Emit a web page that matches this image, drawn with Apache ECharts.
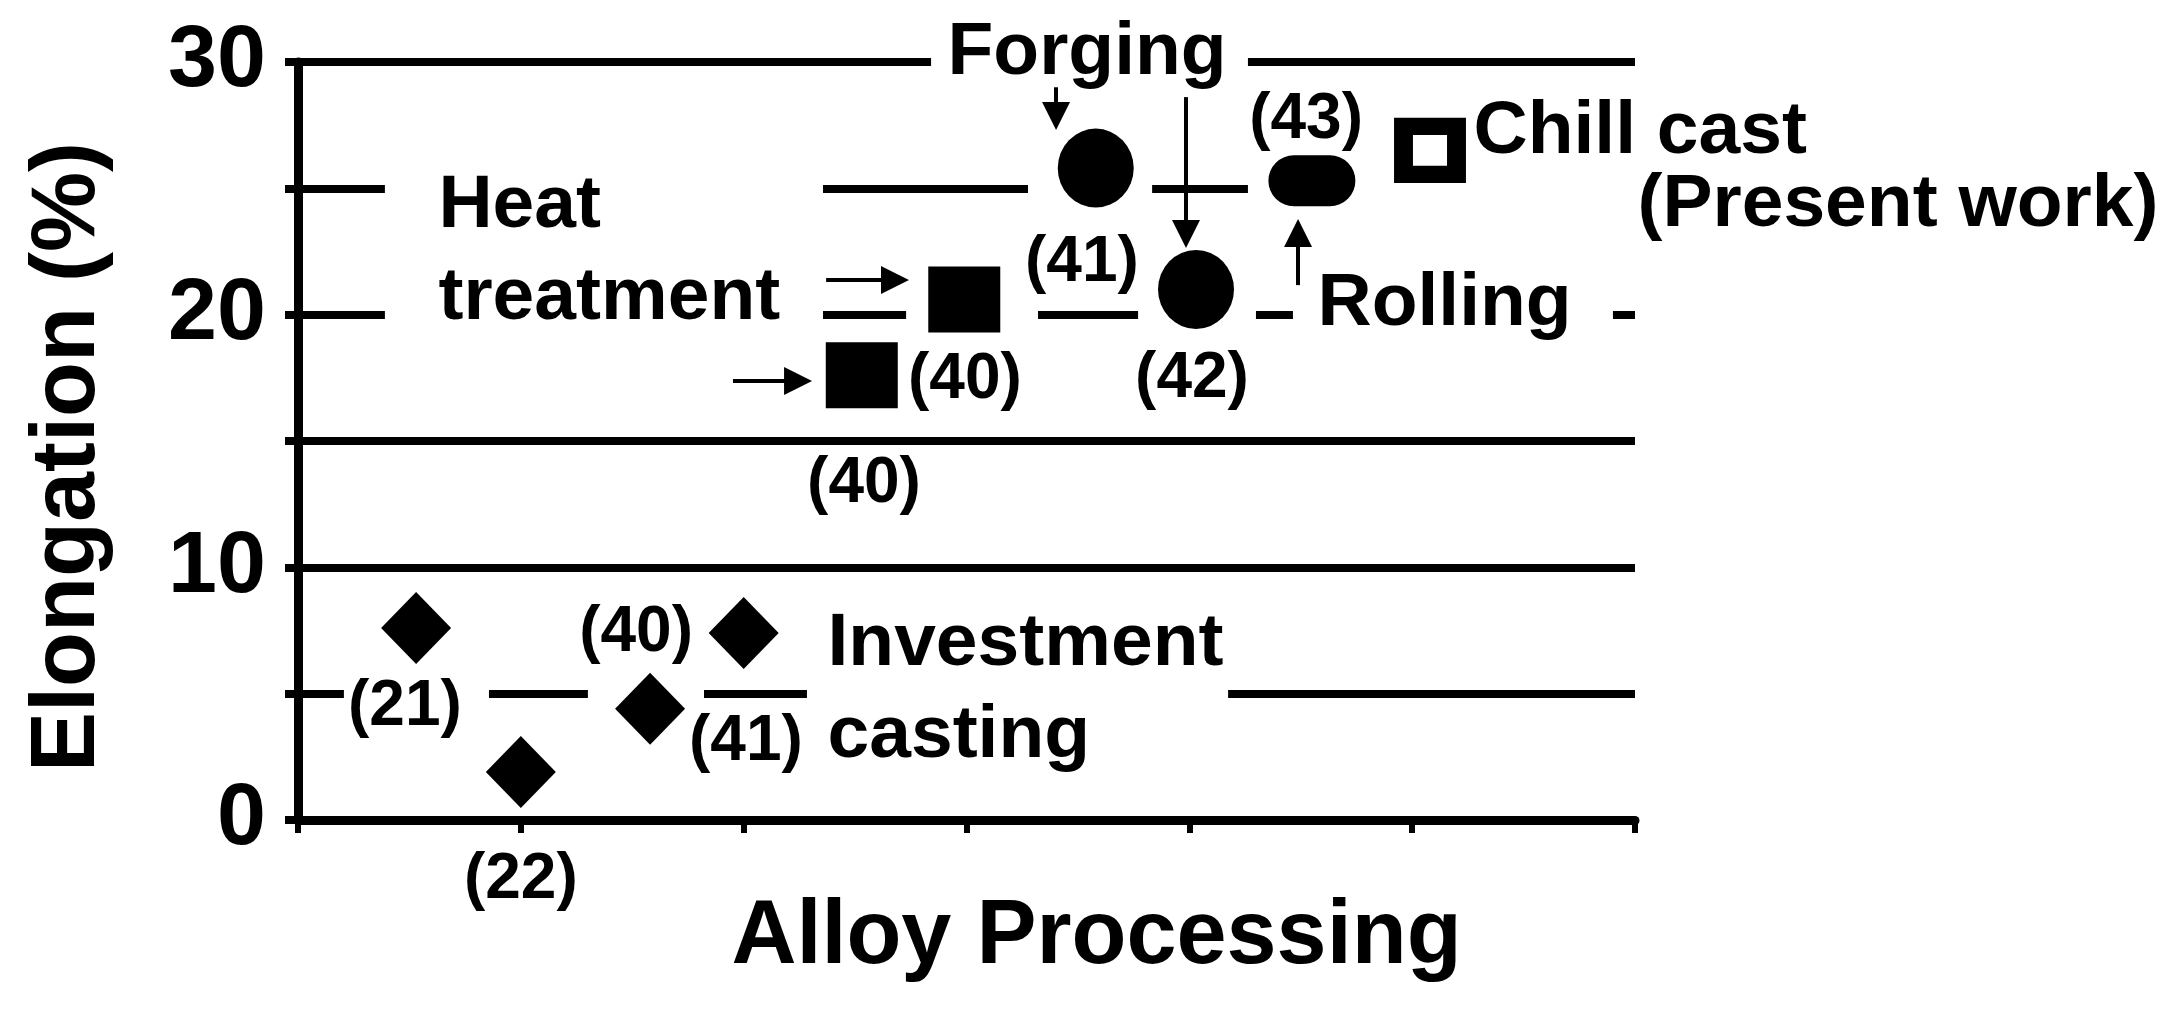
<!DOCTYPE html>
<html><head><meta charset="utf-8">
<script src="https://cdn.jsdelivr.net/npm/echarts@6/dist/echarts.min.js"></script>
<style>html,body{margin:0;padding:0;background:#fff}#c{width:2166px;height:1010px}</style>
</head><body><div id="c"></div>
<script>
// ---- data ----
const yTickValues = [0, 5, 10, 15, 20, 25, 30];
const yTickLabels = ['0', '', '10', '', '20', '', '30'];

const investX = [0.53, 1.0, 1.58, 2.0];
const investY = [7.6, 1.9, 4.4, 7.4];
const heatX = [2.99, 2.53];
const heatY = [20.6, 17.6];
const forgeX = [3.58, 4.03];
const forgeY = [25.8, 21.0];
const rollX = [4.55];
const rollY = [25.3];
const chillX = [5.08];
const chillY = [26.5];

// reference numbers (annotations, in data units)
const refText = ['(21)', '(22)', '(40)', '(41)', '(40)', '(40)', '(41)', '(42)', '(43)'];
const refX = [0.48, 1.0, 1.517, 2.01, 2.54, 2.993, 3.518, 4.012, 4.524];
const refY = [4.47, -2.37, 7.40, 3.09, 13.30, 17.41, 22.04, 17.45, 27.70];

// process names
const noteText = ['Heat\ntreatment', 'Investment\ncasting', 'Rolling', 'Chill cast', '(Present work)'];
const noteX = [0.628, 2.374, 4.573, 5.273, 6.009];
const noteY = [22.47, 5.12, 20.42, 27.23, 24.34];
const titleNote = 'Forging';
const titleNoteX = 3.541;
const titleNoteY = 30.35;

// arrows
const arrowFrom = [[3.402, 29.0], [3.985, 28.61], [4.488, 21.17], [2.37, 21.37], [1.952, 17.37]];
const arrowTo = [[3.402, 27.86], [3.985, 23.19], [4.488, 23.23], [2.679, 21.37], [2.244, 17.37]];

// breaks in the horizontal grid lines: [fromX, toX, gridY]
const gridBreaks = [
  [2.841, 4.263, 30],
  [0.390, 2.356, 25], [3.276, 3.833, 25], [4.263, 6.1, 25],
  [0.390, 2.356, 20], [2.729, 3.321, 20], [3.770, 4.299, 20], [4.465, 5.901, 20],
  [0.206, 0.857, 5], [1.301, 1.822, 5], [2.284, 4.174, 5]
];

// ---- chart ----
const FONT = "'Liberation Sans', Arial, sans-serif";
const zip = (xs, ys) => xs.map((x, i) => [x, ys[i]]);
const chart = echarts.init(document.getElementById('c'), null, {renderer: 'canvas'});

const markerBase = {type: 'scatter', silent: true, clip: false, animation: false, emphasis: {disabled: true}};
const solid = {color: '#000', opacity: 1};
const stadium = 'path://M25.5,0 L61.5,0 A25.5,25.5 0 0 1 61.5,51 L25.5,51 A25.5,25.5 0 0 1 25.5,0 Z';

chart.setOption({
  backgroundColor: '#fff',
  animation: false,
  grid: {left: 298, right: 531, top: 62, bottom: 190},
  xAxis: {
    type: 'value', min: 0, max: 6, interval: 1,
    axisLine: {show: true, lineStyle: {color: '#000', width: 9}},
    axisTick: {show: true, length: 13, lineStyle: {color: '#000', width: 6}},
    axisLabel: {show: false},
    splitLine: {show: false},
    name: 'Alloy Processing', nameLocation: 'middle', nameGap: 73,
    nameTextStyle: {fontFamily: FONT, fontWeight: 'bold', fontSize: 90, color: '#000', padding: [0, 0, 0, 260]}
  },
  yAxis: {
    type: 'value', min: 0, max: 30, interval: 5,
    axisLine: {show: true, lineStyle: {color: '#000', width: 9}},
    axisTick: {show: true, length: 13, lineStyle: {color: '#000', width: 8}},
    axisLabel: {
      fontFamily: FONT, fontWeight: 'bold', fontSize: 88, color: '#000', margin: 32,
      formatter: v => { const i = yTickValues.indexOf(v); return i >= 0 ? yTickLabels[i] : ''; }
    },
    splitLine: {show: true, lineStyle: {color: '#000', width: 8}},
    name: 'Elongation (%)', nameLocation: 'middle', nameGap: 184,
    nameTextStyle: {fontFamily: FONT, fontWeight: 'bold', fontSize: 90, color: '#000', padding: [0, 32, 0, 0]}
  },
  series: [
    {
      type: 'custom', silent: true, animation: false,
      data: gridBreaks,
      renderItem: (params, api) => {
        const p1 = api.coord([api.value(0), api.value(2)]);
        const p2 = api.coord([api.value(1), api.value(2)]);
        return {type: 'rect', shape: {x: p1[0], y: p1[1] - 8, width: p2[0] - p1[0], height: 16},
                style: {fill: '#fff'}};
      }
    },
    Object.assign({}, markerBase, {name: 'Investment casting', symbol: 'diamond', symbolSize: [70, 72],
      itemStyle: solid, data: zip(investX, investY)}),
    Object.assign({}, markerBase, {name: 'Heat treatment', symbol: 'rect', symbolSize: [72, 66],
      itemStyle: solid, data: zip(heatX, heatY)}),
    Object.assign({}, markerBase, {name: 'Forging', symbol: 'circle', symbolSize: [76, 79],
      itemStyle: solid, data: zip(forgeX, forgeY)}),
    Object.assign({}, markerBase, {name: 'Rolling', symbol: stadium, symbolKeepAspect: false, symbolSize: [87, 51],
      itemStyle: solid, data: zip(rollX, rollY)}),
    Object.assign({}, markerBase, {name: 'Chill cast', symbol: 'rect', symbolSize: [53, 48],
      itemStyle: {color: '#fff', borderColor: '#000', borderWidth: 18, opacity: 1}, data: zip(chillX, chillY)}),
    {
      type: 'lines', coordinateSystem: 'cartesian2d', silent: true, animation: false,
      symbol: ['none', 'triangle'], symbolSize: 28,
      lineStyle: {color: '#000', width: 4, opacity: 1, curveness: 0},
      data: arrowFrom.map((f, i) => ({coords: [f, arrowTo[i]]}))
    },
    {
      type: 'scatter', silent: true, clip: false, animation: false, emphasis: {disabled: true},
      symbolSize: 1, itemStyle: {color: 'transparent', opacity: 1},
      label: {show: true, position: 'inside', formatter: p => p.name, opacity: 1,
        fontFamily: FONT, fontWeight: 'bold', fontSize: 64, color: '#000'},
      data: refText.map((t, i) => ({name: t, value: [refX[i], refY[i]]}))
    },
    {
      type: 'scatter', silent: true, clip: false, animation: false, emphasis: {disabled: true},
      symbolSize: 1, itemStyle: {color: 'transparent', opacity: 1},
      label: {show: true, position: 'right', distance: 0, align: 'left', formatter: p => p.name, opacity: 1,
        fontFamily: FONT, fontWeight: 'bold', fontSize: 75, lineHeight: 92, color: '#000'},
      data: noteText.map((t, i) => ({name: t, value: [noteX[i], noteY[i]]}))
    },
    {
      type: 'scatter', silent: true, clip: false, animation: false, emphasis: {disabled: true},
      symbolSize: 1, itemStyle: {color: 'transparent', opacity: 1},
      label: {show: true, position: 'inside', formatter: p => p.name, opacity: 1,
        fontFamily: FONT, fontWeight: 'bold', fontSize: 75, color: '#000'},
      data: [{name: titleNote, value: [titleNoteX, titleNoteY]}]
    }
  ]
});
</script>
</body></html>
